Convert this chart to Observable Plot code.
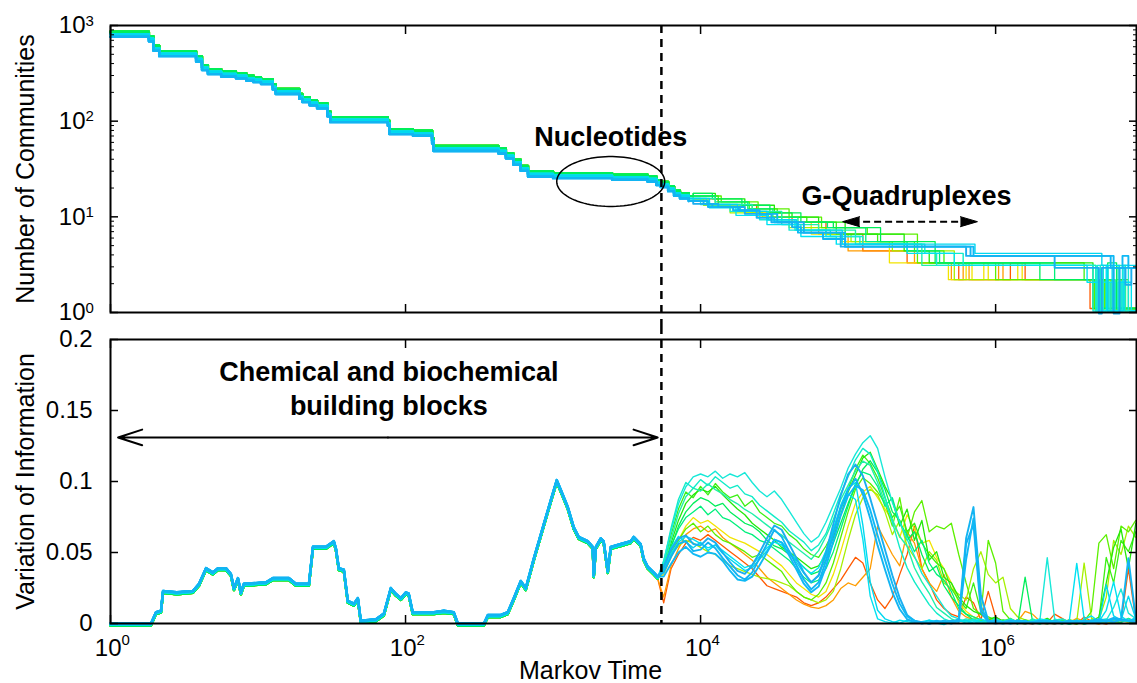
<!DOCTYPE html>
<html>
<head>
<meta charset="utf-8">
<script src="https://cdn.jsdelivr.net/npm/d3@7"></script>
<script src="https://cdn.jsdelivr.net/npm/@observablehq/plot@0.6"></script>
<style>
  html, body { margin: 0; padding: 0; background: #fff; }
  #chart { width: 1137px; height: 683px; overflow: hidden; }
  #chart svg { display: block; }
</style>
</head>
<body>
<div id="chart"></div>
<script>
// ---------------------------------------------------------------------------
// Markov time is stored as log10(t) throughout.
// ---------------------------------------------------------------------------
const xMaxExp = 6.955;

// axis ticks
const markovTicks = [1, 1e2, 1e4, 1e6];
const markovTickExp = ["0", "2", "4", "6"];
const communityTicks = [1, 10, 100, 1000];
const communityTickExp = ["0", "1", "2", "3"];
const communityMinor = [2, 3, 4, 5, 6, 7, 8, 9, 20, 30, 40, 50, 60, 70, 80, 90,
  200, 300, 400, 500, 600, 700, 800, 900];
const viTicks = [0, 0.05, 0.1, 0.15, 0.2];
const viTickLabels = ["0", "0.05", "0.1", "0.15", "0.2"];

// Number of communities shared by every run before the partitions diverge: [log10 t, N]
const topEarly = [[0, 780], [0.26, 700], [0.29, 560], [0.33, 490], [0.58, 430], [0.62, 350],
  [0.66, 318], [0.75, 300], [0.85, 288], [0.92, 272], [0.97, 262], [1.02, 250], [1.10, 220],
  [1.12, 197], [1.28, 175], [1.30, 162], [1.35, 150], [1.40, 140], [1.47, 115], [1.49, 100],
  [1.88, 92], [1.89, 75], [2.05, 72], [2.18, 60], [2.19, 50], [2.63, 47], [2.68, 42],
  [2.73, 36], [2.78, 31], [2.83, 27], [3.00, 26], [3.40, 25], [3.64, 24], [3.70, 22],
  [3.73, 21], [3.78, 19], [3.82, 17], [3.86, 16], [3.92, 15]];

// Number of communities after 10^3.92, per run: [log10 t, N]
const stepsB1 = [[4.02, 14], [4.12, 13], [4.26, 12], [4.40, 11], [4.52, 9], [4.62, 8], [4.68, 7],
  [4.83, 6], [4.98, 5], [5.83, 4], [6.78, 3]];
const stepsB2 = [[4.05, 13], [4.22, 12], [4.38, 10], [4.50, 9], [4.66, 7], [4.98, 5], [5.85, 4],
  [6.80, 3], [6.86, 4], [6.90, 3]];
const stepsB3 = [[3.95, 14], [4.08, 13], [4.30, 11], [4.48, 9], [4.70, 7], [4.95, 5], [5.80, 4],
  [6.40, 3], [6.70, 1], [6.72, 3], [6.80, 1], [6.84, 3], [6.88, 2], [6.92, 3]];
const stepsC1 = [[4.00, 13], [4.20, 11], [4.40, 9], [4.60, 7], [4.85, 6], [5.10, 5], [5.47, 4],
  [5.60, 3], [6.66, 1], [6.69, 3], [6.73, 1], [6.77, 2], [6.81, 1], [6.86, 3], [6.90, 1]];
const stepsC2 = [[3.95, 14], [4.06, 12], [4.24, 10], [4.45, 8], [4.68, 6], [4.92, 5], [5.40, 4],
  [5.72, 3], [6.62, 2], [6.70, 1], [6.75, 3], [6.80, 1], [6.85, 2], [6.92, 1]];
const stepsC3 = [[4.10, 13], [4.35, 11], [4.55, 8], [4.80, 7], [5.05, 5], [5.50, 3], [6.68, 1],
  [6.72, 2], [6.78, 1], [6.83, 3], [6.88, 1]];
const stepsC4 = [[4.04, 13], [4.27, 11], [4.46, 9], [4.64, 7], [4.88, 6], [5.08, 5], [5.52, 4],
  [5.78, 3], [6.68, 1], [6.71, 3], [6.76, 1], [6.83, 2], [6.87, 1]];
const stepsC5 = [[4.06, 13], [4.25, 11], [4.45, 9], [4.65, 7], [4.96, 5], [5.86, 4], [6.72, 3],
  [6.76, 1], [6.79, 3], [6.84, 1], [6.87, 3]];
const stepsG1 = [[3.95, 16], [4.10, 14], [4.30, 12], [4.50, 10], [4.62, 9], [4.80, 8], [4.98, 6],
  [5.38, 4], [5.55, 3], [6.66, 1], [6.70, 2], [6.75, 1], [6.82, 2], [6.88, 1]];
const stepsG2 = [[4.14, 13], [4.39, 11], [4.60, 9], [4.82, 7], [5.13, 6], [5.47, 3], [6.00, 2],
  [6.67, 1], [6.74, 2], [6.80, 1]];
const stepsG3 = [[3.95, 16], [4.08, 14], [4.28, 12], [4.47, 10], [4.68, 8], [4.90, 7], [5.22, 5],
  [5.59, 3], [6.30, 2], [6.70, 1], [6.76, 3], [6.82, 1]];
const stepsG4 = [[3.95, 14], [4.02, 12], [4.20, 10], [4.42, 9], [4.60, 7], [4.85, 6], [5.02, 5],
  [5.30, 4], [5.72, 2], [6.66, 1], [6.74, 2], [6.80, 1]];
const stepsG5 = [[3.95, 15], [4.12, 13], [4.33, 11], [4.52, 9], [4.72, 8], [4.92, 6], [5.20, 5],
  [5.45, 4], [5.65, 3], [6.60, 2], [6.68, 1], [6.73, 2], [6.79, 1], [6.85, 2], [6.90, 1]];
const stepsG6 = [[3.95, 15], [4.10, 13], [4.32, 11], [4.49, 9], [4.66, 8], [4.86, 7], [5.12, 5],
  [5.40, 4], [5.62, 3], [6.40, 2], [6.69, 1], [6.75, 2], [6.81, 1]];
const stepsY1 = [[3.95, 14], [4.05, 12], [4.30, 10], [4.52, 8], [4.75, 6], [4.95, 5], [5.28, 3],
  [5.68, 2], [5.80, 3], [5.84, 2], [5.92, 3], [5.95, 2], [6.15, 3], [6.18, 2], [6.66, 1],
  [6.72, 2], [6.78, 1]];
const stepsO1 = [[4.10, 12], [4.35, 10], [4.55, 8], [4.80, 6], [5.00, 4], [5.45, 3], [5.70, 2],
  [5.78, 3], [5.82, 2], [6.02, 3], [6.05, 2], [6.70, 1], [6.76, 2], [6.80, 1]];
const stepsO2 = [[3.95, 14], [4.12, 12], [4.38, 9], [4.62, 8], [4.85, 6], [5.10, 4], [5.40, 3],
  [5.75, 2], [6.10, 3], [6.20, 2], [6.64, 1], [6.70, 2], [6.76, 1]];

// Variation of information shared by every run up to 10^3.71: [log10 t, VI]
const earlyVI = [[0, 0], [0.274, 0], [0.308, .008], [0.342, .009], [0.356, .023], [0.45, .022],
  [0.559, .023], [0.600, .028], [0.647, .039], [0.694, .036], [0.728, .039], [0.783, .039],
  [0.816, .035], [0.837, .025], [0.864, .032], [0.884, .022], [0.904, .028], [1.054, .029],
  [1.101, .032], [1.209, .032], [1.257, .028], [1.345, .028], [1.372, .054], [1.460, .054],
  [1.514, .058], [1.528, .053], [1.548, .039], [1.582, .038], [1.609, .016], [1.650, .014],
  [1.677, .018], [1.697, .002], [1.799, .003], [1.853, .007], [1.900, .025], [1.934, .021],
  [1.968, .018], [2.002, .022], [2.022, .021], [2.049, .008], [2.104, .008], [2.192, .008],
  [2.260, .009], [2.327, .008], [2.355, 0], [2.531, 0], [2.558, .006], [2.646, .006],
  [2.693, .008], [2.734, .018], [2.781, .030], [2.815, .025], [2.870, .046], [2.937, .070],
  [2.985, .087], [3.025, .101], [3.053, .094], [3.100, .082], [3.140, .068], [3.174, .061],
  [3.235, .058], [3.269, .054], [3.276, .034], [3.290, .054], [3.323, .060], [3.343, .058],
  [3.371, .037], [3.391, .054], [3.459, .056], [3.526, .058], [3.547, .061], [3.594, .056],
  [3.614, .046], [3.642, .040], [3.682, .036], [3.709, .033]];

// sampling grid (log10 t) of the divergent regime
const lateLogTime = [3.75, 3.80, 3.85, 3.90, 3.95, 4.00, 4.05, 4.10, 4.15, 4.20,
  4.25, 4.30, 4.35, 4.40, 4.45, 4.50, 4.55, 4.60, 4.65, 4.70,
  4.75, 4.80, 4.85, 4.90, 4.95, 5.00, 5.05, 5.10, 5.15, 5.20,
  5.25, 5.30, 5.35, 5.40, 5.45, 5.50, 5.55, 5.60, 5.65, 5.70,
  5.75, 5.80, 5.85, 5.90, 5.95, 6.00, 6.05, 6.10, 6.15, 6.20,
  6.25, 6.30, 6.35, 6.40, 6.45, 6.50, 6.55, 6.60, 6.65, 6.70,
  6.75, 6.80, 6.85, 6.90, 6.95];

// Variation of information per run on that grid
const viB1 = [.036, .047, .056, .058, .051, .052, .057, .053, .046, .040,
  .034, .031, .036, .046, .056, .066, .061, .051, .041, .031,
  .024, .029, .044, .063, .081, .094, .102, .091, .074, .055,
  .038, .022, .010, .003, .001, .001, .000, .001, .002, .001,
  .003, .060, .082, .020, .002, .001, .000, .001, .002, .001,
  .001, .002, .001, .000, .001, .002, .001, .001, .002, .003,
  .002, .004, .003, .046, .004];
const viB2 = [.033, .042, .050, .054, .049, .047, .050, .049, .044, .037,
  .031, .030, .033, .041, .050, .059, .057, .048, .038, .028,
  .022, .026, .040, .058, .076, .090, .097, .094, .080, .062,
  .045, .028, .014, .005, .002, .000, .001, .002, .001, .000,
  .002, .045, .074, .012, .001, .002, .001, .000, .001, .002,
  .000, .001, .002, .001, .000, .001, .002, .000, .001, .002,
  .001, .003, .002, .002, .003];
const viB3 = [.040, .052, .060, .062, .056, .055, .060, .057, .050, .043,
  .037, .035, .041, .050, .060, .069, .066, .056, .046, .036,
  .029, .034, .050, .070, .090, .105, .112, .104, .088, .070,
  .052, .034, .018, .006, .002, .001, .000, .001, .001, .002,
  .001, .056, .070, .008, .001, .000, .001, .002, .001, .000,
  .001, .001, .000, .002, .001, .000, .001, .002, .001, .001,
  .002, .001, .003, .002, .001];
const viC1 = [.045, .066, .085, .097, .104, .106, .104, .108, .103, .106,
  .104, .107, .100, .094, .090, .094, .088, .080, .072, .064,
  .058, .062, .072, .084, .096, .110, .120, .128, .133, .124,
  .104, .086, .072, .060, .048, .036, .028, .020, .012, .006,
  .004, .002, .003, .001, .002, .004, .002, .001, .003, .002,
  .001, .003, .047, .004, .002, .001, .003, .002, .001, .004,
  .003, .012, .025, .008, .004];
const viC2 = [.038, .050, .058, .062, .060, .057, .054, .056, .052, .048,
  .044, .040, .042, .048, .054, .058, .056, .050, .046, .040,
  .036, .040, .052, .068, .082, .092, .088, .060, .020, .004,
  .002, .001, .003, .002, .001, .002, .003, .001, .000, .002,
  .003, .001, .002, .004, .002, .001, .002, .003, .002, .001,
  .002, .004, .003, .002, .001, .003, .043, .004, .006, .002,
  .010, .030, .006, .002, .005];
const viC3 = [.042, .060, .078, .090, .096, .094, .099, .095, .092, .088,
  .085, .081, .078, .074, .070, .066, .063, .058, .054, .050,
  .046, .052, .062, .074, .088, .098, .108, .115, .112, .100,
  .086, .074, .062, .055, .040, .030, .022, .012, .008, .004,
  .002, .004, .003, .002, .003, .001, .002, .003, .002, .001,
  .004, .002, .003, .001, .002, .003, .002, .003, .001, .002,
  .002, .004, .003, .002, .001];
const viC4 = [.044, .068, .088, .100, .096, .102, .098, .104, .100, .096,
  .098, .092, .090, .084, .080, .076, .072, .066, .062, .058,
  .052, .056, .064, .078, .092, .104, .116, .124, .120, .108,
  .090, .072, .054, .040, .030, .022, .014, .008, .004, .002,
  .003, .002, .004, .002, .001, .003, .002, .004, .002, .001,
  .003, .002, .001, .003, .004, .002, .003, .001, .002, .003,
  .004, .002, .003, .004, .002];
const viC5 = [.040, .054, .062, .058, .054, .058, .052, .056, .050, .046,
  .042, .038, .040, .046, .052, .060, .058, .052, .044, .036,
  .030, .034, .048, .066, .084, .096, .100, .070, .030, .010,
  .004, .002, .001, .003, .002, .001, .003, .002, .001, .002,
  .002, .003, .001, .002, .003, .001, .002, .001, .003, .002,
  .001, .002, .003, .001, .002, .001, .002, .003, .002, .001,
  .028, .006, .003, .020, .004];
const viG1 = [.040, .058, .074, .086, .092, .096, .094, .098, .092, .087,
  .082, .078, .072, .068, .064, .060, .055, .052, .048, .044,
  .040, .042, .050, .062, .078, .094, .106, .118, .122, .110,
  .098, .088, .070, .082, .060, .074, .046, .052, .034, .030,
  .020, .014, .010, .008, .004, .006, .003, .002, .004, .003,
  .002, .003, .005, .002, .003, .001, .002, .004, .003, .006,
  .030, .055, .068, .040, .072];
const viG2 = [.044, .052, .060, .068, .072, .066, .070, .064, .060, .058,
  .055, .052, .048, .050, .046, .042, .038, .030, .024, .020,
  .018, .022, .030, .044, .062, .080, .096, .104, .100, .094,
  .086, .070, .090, .062, .080, .088, .066, .070, .068, .072,
  .050, .030, .012, .008, .060, .044, .010, .004, .002, .003,
  .002, .004, .002, .003, .001, .004, .002, .003, .010, .058,
  .064, .040, .070, .066, .074];
const viG3 = [.038, .055, .070, .080, .086, .090, .088, .084, .086, .080,
  .076, .072, .070, .066, .060, .056, .054, .050, .046, .041,
  .036, .038, .046, .058, .072, .086, .098, .110, .116, .108,
  .096, .080, .074, .060, .066, .050, .038, .042, .028, .020,
  .014, .008, .004, .003, .002, .005, .002, .003, .001, .034,
  .003, .002, .004, .003, .002, .001, .003, .002, .004, .003,
  .004, .003, .002, .005, .003];
const viG4 = [.040, .050, .056, .060, .058, .055, .052, .050, .046, .042,
  .040, .038, .036, .034, .033, .032, .030, .028, .024, .020,
  .018, .016, .018, .024, .040, .060, .078, .090, .096, .092,
  .080, .064, .074, .056, .048, .040, .052, .046, .030, .026,
  .022, .018, .040, .052, .036, .030, .034, .012, .006, .004,
  .003, .002, .004, .003, .002, .004, .003, .044, .005, .004,
  .020, .060, .050, .070, .062];
const viG5 = [.042, .064, .082, .094, .090, .098, .092, .100, .094, .090,
  .092, .084, .088, .080, .076, .072, .070, .064, .060, .054,
  .050, .048, .056, .066, .082, .096, .110, .120, .114, .104,
  .090, .076, .084, .066, .072, .058, .050, .044, .040, .026,
  .018, .012, .030, .010, .006, .004, .003, .005, .002, .004,
  .002, .003, .002, .004, .003, .002, .001, .003, .002, .004,
  .048, .030, .060, .052, .066];
const viG6 = [.042, .056, .068, .076, .080, .084, .078, .082, .076, .074,
  .070, .066, .064, .060, .058, .054, .050, .046, .040, .034,
  .030, .032, .040, .052, .068, .084, .100, .108, .106, .098,
  .084, .090, .072, .064, .052, .060, .044, .036, .032, .024,
  .012, .008, .006, .004, .003, .002, .004, .003, .002, .003,
  .002, .001, .003, .002, .004, .002, .003, .001, .002, .002,
  .003, .002, .004, .003, .002];
const viY1 = [.036, .048, .060, .070, .076, .072, .074, .070, .066, .062,
  .060, .058, .055, .052, .050, .046, .042, .036, .030, .026,
  .022, .020, .024, .036, .052, .070, .086, .094, .098, .090,
  .082, .074, .062, .078, .068, .058, .060, .048, .040, .030,
  .016, .010, .006, .004, .003, .002, .004, .003, .002, .001,
  .003, .002, .001, .003, .002, .004, .002, .001, .003, .002,
  .002, .003, .004, .002, .003];
const viO1 = [.020, .042, .054, .064, .068, .070, .066, .068, .062, .058,
  .054, .050, .046, .040, .034, .030, .026, .022, .018, .015,
  .013, .012, .014, .018, .026, .030, .028, .034, .040, .070,
  .060, .050, .042, .066, .058, .040, .030, .024, .036, .020,
  .010, .006, .004, .008, .005, .003, .002, .004, .003, .010,
  .008, .003, .002, .001, .003, .002, .005, .003, .002, .001,
  .003, .002, .004, .003, .002];
const viO2 = [.016, .040, .050, .058, .062, .060, .064, .060, .056, .052,
  .048, .044, .040, .034, .028, .026, .024, .022, .020, .016,
  .014, .016, .020, .026, .032, .040, .048, .044, .030, .018,
  .012, .020, .036, .050, .070, .040, .030, .018, .012, .008,
  .006, .020, .016, .004, .024, .006, .003, .002, .004, .002,
  .001, .003, .002, .008, .005, .002, .001, .006, .003, .002,
  .001, .003, .002, .040, .004];

// annotations
const scaleBoundary = 5425;
const nucleotides = {label: "Nucleotides", t: 2460, n: 55.6};
const nucleotideEllipse = {t: 2460, n: 23.4, rx: 0.366, ry: 0.261};   // radii in decades
const gQuad = {label: "G-Quadruplexes", t: 2.49e5, n: 13.4};
const gQuadArrow = {t1: 9.18e4, t2: 7.53e5, n: 8.9};
const chemLines = [
  {label: "Chemical and biochemical", t: 77.1, v: 0.171},
  {label: "building blocks", t: 77.1, v: 0.1465}
];
const chemArrow = {tMid: 76, tStart: 1.125, tEnd: 5120, v: 0.131};

// ---------------------------------------------------------------------------
// runs, drawn warm colours first so the blue runs end up on top
// ---------------------------------------------------------------------------
const runs = [
  {band: "warm", color: "#ff5a00", vi: viO2, steps: stepsO2},
  {band: "warm", color: "#ff9c00", vi: viO1, steps: stepsO1},
  {band: "warm", color: "#f2e400", vi: viY1, steps: stepsY1},
  {band: "green", color: "#a6f000", vi: viG4, steps: stepsG4},
  {band: "green", color: "#5cf000", vi: viG2, steps: stepsG2},
  {band: "green", color: "#3cf014", vi: viG5, steps: stepsG5},
  {band: "green", color: "#22e80a", vi: viG1, steps: stepsG1},
  {band: "green", color: "#00f07c", vi: viG6, steps: stepsG6},
  {band: "green", color: "#00ee5a", vi: viG3, steps: stepsG3},
  {band: "cyan", color: "#20f0a8", vi: viC3, steps: stepsC3},
  {band: "cyan", color: "#10ecc8", vi: viC4, steps: stepsC4},
  {band: "cyan", color: "#17e8d8", vi: viC1, steps: stepsC1},
  {band: "cyan", color: "#00e2f2", vi: viC2, steps: stepsC2},
  {band: "cyan", color: "#00d8f0", vi: viC5, steps: stepsC5},
  {band: "blue", color: "#1aaef0", vi: viB3, steps: stepsB3},
  {band: "blue", color: "#0fb9f5", vi: viB2, steps: stepsB2},
  {band: "blue", color: "#12b4f2", vi: viB1, steps: stepsB1}
];
const bandTopDy = {warm: -4, green: -4, cyan: -1.5, blue: 1};
const bandVIDy = {warm: 2, green: 2, cyan: 1, blue: 0};
const bandWidth = {warm: 1.3, green: 1.3, cyan: 1.4, blue: 1.9};
const sharedWidth = 2.4;   // where all runs coincide they form a thick band

const topRows = runs.map(r => {
  const pts = [...topEarly, ...r.steps];
  pts.push([xMaxExp, pts[pts.length - 1][1]]);
  return pts.map(([e, n]) => ({t: 10 ** e, n}));
});
const topShared = topEarly.map(([e, n]) => ({t: 10 ** e, n}));
const viRows = runs.map(r => [
  ...earlyVI.map(([e, v]) => ({t: 10 ** e, v})),
  ...lateLogTime.map((e, i) => ({t: 10 ** e, v: r.vi[i]}))
]);
const viShared = earlyVI.map(([e, v]) => ({t: 10 ** e, v}));

const ellipsePts = d3.range(0, 361, 4).map(a => {
  const r = a * Math.PI / 180;
  return {
    t: 10 ** (Math.log10(nucleotideEllipse.t) + nucleotideEllipse.rx * Math.cos(r)),
    n: 10 ** (Math.log10(nucleotideEllipse.n) + nucleotideEllipse.ry * Math.sin(r))
  };
});

const font = "'Liberation Sans', Arial, Helvetica, sans-serif";
const xScale = {type: "log", domain: [1, 10 ** xMaxExp]};
const tickOpts = {tickFormat: () => "", label: null, stroke: "black", strokeWidth: 1.5};

// ---------------------------------------------------------------------------
// upper panel: number of communities
// ---------------------------------------------------------------------------
const topPlot = Plot.plot({
  width: 1137, height: 326,
  marginLeft: 110, marginRight: 1, marginTop: 25, marginBottom: 14,
  x: xScale,
  y: {type: "log", domain: [1, 1000]},
  style: {fontFamily: font, background: "transparent", color: "black"},
  marks: [
    ...runs.map((r, i) => Plot.line(topRows[i], {
      x: "t", y: "n", curve: "step-after", stroke: r.color,
      strokeWidth: bandWidth[r.band], dy: bandTopDy[r.band]
    })),
    ...runs.map(r => Plot.line(topShared, {
      x: "t", y: "n", curve: "step-after", stroke: r.color,
      strokeWidth: sharedWidth, dy: bandTopDy[r.band]
    })),
    Plot.line(ellipsePts, {x: "t", y: "n", stroke: "black", strokeWidth: 1.5}),
    Plot.ruleX([scaleBoundary], {stroke: "black", strokeWidth: 2.5, strokeDasharray: "8,6", insetBottom: -14}),
    Plot.text([nucleotides], {x: "t", y: "n", text: "label", fontSize: 27, fontWeight: "bold",
      textAnchor: "middle", lineAnchor: "bottom"}),
    Plot.text([gQuad], {x: "t", y: "n", text: "label", fontSize: 27, fontWeight: "bold",
      textAnchor: "middle", lineAnchor: "bottom"}),
    Plot.ruleY([gQuadArrow], {y: "n", x1: "t1", x2: "t2", stroke: "black", strokeWidth: 2,
      strokeDasharray: "7,4", insetLeft: 10, insetRight: 10}),
    Plot.vector([{t: gQuadArrow.t1, n: gQuadArrow.n, rot: -90}, {t: gQuadArrow.t2, n: gQuadArrow.n, rot: 90}], {
      x: "t", y: "n", rotate: "rot", length: 17, r: 5, shape: "spike", anchor: "end",
      fill: "black", fillOpacity: 1, stroke: "black", strokeWidth: 1
    }),
    Plot.axisX(markovTicks, {anchor: "bottom", tickSize: -8, ...tickOpts}),
    Plot.axisX(markovTicks, {anchor: "top", tickSize: -8, ...tickOpts}),
    Plot.axisY(communityTicks, {anchor: "left", tickSize: -8, ...tickOpts}),
    Plot.axisY(communityTicks, {anchor: "right", tickSize: -8, ...tickOpts}),
    Plot.axisY(communityMinor, {anchor: "left", tickSize: -4, ...tickOpts, strokeWidth: 1}),
    Plot.axisY(communityMinor, {anchor: "right", tickSize: -4, ...tickOpts, strokeWidth: 1}),
    Plot.frame({stroke: "black", strokeWidth: 2}),
    Plot.text(communityTicks, {y: d => d, text: () => "10", frameAnchor: "left", dx: -25,
      textAnchor: "end", lineAnchor: "middle", fontSize: 24}),
    Plot.text(communityTicks, {y: d => d, text: (d, i) => communityTickExp[i], frameAnchor: "left",
      dx: -25, dy: 0, textAnchor: "start", lineAnchor: "bottom", fontSize: 15}),
    Plot.text(["Number of Communities"], {text: d => d, frameAnchor: "left", dx: -77, rotate: -90,
      textAnchor: "middle", lineAnchor: "bottom", fontSize: 25})
  ]
});

// ---------------------------------------------------------------------------
// lower panel: variation of information
// ---------------------------------------------------------------------------
const bottomPlot = Plot.plot({
  width: 1137, height: 357,
  marginLeft: 110, marginRight: 1, marginTop: 13, marginBottom: 60,
  x: xScale,
  y: {domain: [0, 0.2]},
  style: {fontFamily: font, background: "transparent", color: "black"},
  marks: [
    ...runs.map((r, i) => Plot.line(viRows[i], {
      x: "t", y: "v", stroke: r.color,
      strokeWidth: bandWidth[r.band], dy: bandVIDy[r.band]
    })),
    ...runs.map(r => Plot.line(viShared, {
      x: "t", y: "v", stroke: r.color, strokeWidth: sharedWidth, dy: bandVIDy[r.band]
    })),
    Plot.ruleX([scaleBoundary], {stroke: "black", strokeWidth: 2.5, strokeDasharray: "8,6", insetTop: -13}),
    Plot.text(chemLines, {x: "t", y: "v", text: "label", fontSize: 27, fontWeight: "bold",
      textAnchor: "middle", lineAnchor: "bottom"}),
    Plot.arrow([{t1: chemArrow.tMid, t2: chemArrow.tStart}, {t1: chemArrow.tMid, t2: chemArrow.tEnd}], {
      x1: "t1", x2: "t2", y1: () => chemArrow.v, y2: () => chemArrow.v,
      stroke: "black", strokeWidth: 2, headLength: 19, headAngle: 36
    }),
    Plot.axisX(markovTicks, {anchor: "bottom", tickSize: -8, ...tickOpts}),
    Plot.axisX(markovTicks, {anchor: "top", tickSize: -8, ...tickOpts}),
    Plot.axisY(viTicks, {anchor: "left", tickSize: -8, ...tickOpts}),
    Plot.axisY(viTicks, {anchor: "right", tickSize: -8, ...tickOpts}),
    Plot.frame({stroke: "black", strokeWidth: 2}),
    Plot.text(viTicks, {y: d => d, text: (d, i) => viTickLabels[i], frameAnchor: "left", dx: -18,
      textAnchor: "end", lineAnchor: "middle", fontSize: 24}),
    Plot.text(markovTicks, {x: d => d, text: () => "10", frameAnchor: "bottom", dx: 11, dy: 32,
      textAnchor: "end", lineAnchor: "bottom", fontSize: 24}),
    Plot.text(markovTicks, {x: d => d, text: (d, i) => markovTickExp[i], frameAnchor: "bottom",
      dx: 11, dy: 21, textAnchor: "start", lineAnchor: "bottom", fontSize: 15}),
    Plot.text(["Variation of Information"], {text: d => d, frameAnchor: "left", dx: -77, rotate: -90,
      textAnchor: "middle", lineAnchor: "bottom", fontSize: 25}),
    Plot.text(["Markov Time"], {text: d => d, frameAnchor: "bottom", dx: -33, dy: 55,
      textAnchor: "middle", lineAnchor: "bottom", fontSize: 25})
  ]
});

document.getElementById("chart").append(topPlot, bottomPlot);
</script>
</body>
</html>
